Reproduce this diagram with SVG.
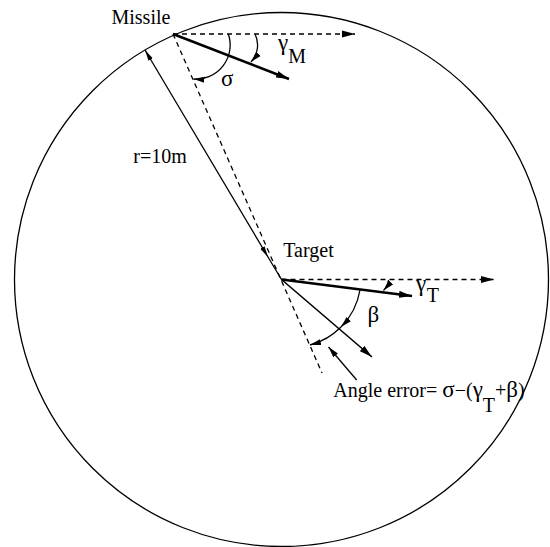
<svg xmlns="http://www.w3.org/2000/svg" width="550" height="547" viewBox="0 0 550 547">
<style>
.txt{font-family:"Liberation Serif","Times New Roman",serif;font-size:20px;fill:#000}
.gr{font-size:23px}
.thin{fill:none;stroke:#000;stroke-width:1.3}
.dash{fill:none;stroke:#000;stroke-width:1.3;stroke-dasharray:5,4}
.bold{fill:none;stroke:#000;stroke-width:2.6}
.mid{fill:none;stroke:#000;stroke-width:1.6}
</style>
<defs>
<marker id="ah" markerUnits="userSpaceOnUse" markerWidth="14" markerHeight="8" refX="13" refY="4" orient="auto">
<path d="M0,0.5 L13,4 L0,7.5 z" fill="#000"/>
</marker>
<marker id="as" markerUnits="userSpaceOnUse" markerWidth="12" markerHeight="8" refX="11" refY="3.5" orient="auto">
<path d="M0,0.5 L11,3.5 L0,6.5 z" fill="#000"/>
</marker>
<marker id="at" markerUnits="userSpaceOnUse" markerWidth="12" markerHeight="8" refX="11" refY="3" orient="auto-start-reverse">
<path d="M0,0.5 L11,3 L0,5.5 z" fill="#000"/>
</marker>
</defs>
<g id="boundary">
<circle cx="281.5" cy="279.5" r="267" class="thin"/>
</g>
<g id="connectors">
<line x1="173" y1="34" x2="355" y2="34" class="dash" marker-end="url(#ah)"/>
<line x1="173" y1="34" x2="322" y2="373" class="dash"/>
<line x1="173" y1="34" x2="289" y2="79" class="bold" marker-end="url(#ah)"/>
<path d="M145,50 L268,257 L281.5,279.5" class="thin" marker-start="url(#at)" marker-mid="url(#at)"/>
<line x1="281.5" y1="279.5" x2="494" y2="279.5" class="dash" marker-end="url(#ah)"/>
<line x1="281.5" y1="279.5" x2="412" y2="296" class="bold" marker-end="url(#ah)"/>
<line x1="281.5" y1="279.5" x2="372" y2="357" class="mid" marker-end="url(#ah)"/>
<path d="M228.3,34 A34,34 0 0 1 193.5,79" class="thin" marker-end="url(#as)"/>
<path d="M255,34 A25,25 0 0 1 251,62" class="thin" marker-end="url(#as)"/>
<path d="M388.5,280 A20,20 0 0 1 383.5,290.5" class="thin" marker-end="url(#as)"/>
<path d="M360,290 A69,69 0 0 1 341,327" class="thin" marker-end="url(#as)"/>
<path d="M341,327 A69,69 0 0 1 310,345" class="thin" marker-end="url(#as)"/>
<line x1="356.7" y1="380" x2="328.5" y2="347" class="thin" marker-end="url(#as)"/>
</g>
<g id="missile">
<text class="txt" x="111.5" y="24">Missile</text>
</g>
<g id="target">
<text class="txt" x="283.3" y="256.7">Target</text>
</g>
<g id="labels">
<text class="txt" x="133.3" y="163">r=10m</text>
<text class="txt gr" x="221" y="86">σ</text>
<text class="txt gr" x="278" y="50">γ</text>
<text class="txt" x="288.3" y="63.3">M</text>
<text class="txt gr" x="416" y="291">γ</text>
<text class="txt" x="426.7" y="302">T</text>
<text class="txt gr" x="367.5" y="322">β</text>
<text class="txt" x="333.3" y="397.3">Angle error= <tspan class="gr">σ</tspan>−(<tspan class="gr">γ</tspan><tspan dy="15">T</tspan><tspan dy="-15">+</tspan><tspan class="gr">β</tspan>)</text>
</g>
</svg>
